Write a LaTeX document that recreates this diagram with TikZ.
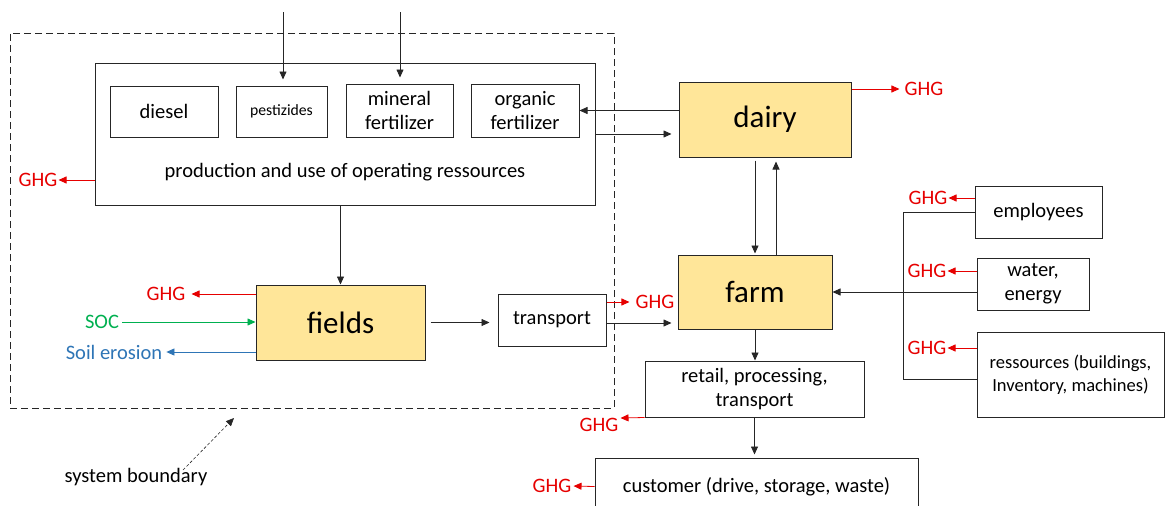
\documentclass[tikz,border=0pt]{standalone}
\usepackage{fontspec}
\setmainfont{Carlito}
\usetikzlibrary{arrows.meta}
\definecolor{ghgred}{RGB}{230,0,0}
\definecolor{socgreen}{RGB}{0,176,80}
\definecolor{erosionblue}{RGB}{46,117,182}
\definecolor{unitfill}{RGB}{255,230,153}
\def\txt{\fontsize{20.5}{24}\selectfont}
\def\bigtxt{\fontsize{31}{36}\selectfont}
\tikzset{%
  box/.style={draw=black!85,line width=1pt,align=center,inner sep=0pt,font=\txt},%
  unit/.style={box,fill=unitfill,font=\bigtxt},%
  lbl/.style={inner sep=0pt,font=\txt},%
  ghg/.style={lbl,text=ghgred},%
  flow/.style={draw=black!85,line width=0.8pt,-{Triangle[length=8pt,width=7pt]}},%
  ghgflow/.style={flow,draw=ghgred},%
  feed/.style={draw=black!85,line width=0.8pt}%
}
\begin{document}
\begin{tikzpicture}[x=1pt,y=-1pt]%
\useasboundingbox (0,0) rectangle (1165,506);%
% system boundary
\node[draw=black!85,line width=1pt,dash pattern=on 7pt off 4pt,inner sep=0pt,minimum width=604,minimum height=375] (boundary) at (312,220.5) {};%
\node[lbl] (sysb) at (136,477) {system boundary};%
\coordinate (sbtip) at (234,418);%
\draw[flow,densely dashed,line width=0.6pt] ([xshift=47pt,yshift=-2pt]sysb.north) -- (sbtip);%
%
% operating ressources
\node[box,minimum width=500,minimum height=142] (ops) at (345,134) {};%
\node[lbl] (opstext) at (345,172) {production and use of operating ressources};%
\node[box,minimum width=108,minimum height=51] (diesel) at (164,111.5) {diesel};%
\node[box,minimum width=91,minimum height=51,font=\fontsize{15.7}{18}\selectfont] (pest) at (281.5,111.5) {pestizides};%
\node[box,minimum width=107,minimum height=53] (mineral) at (399.5,110.5) {mineral\\fertilizer};%
\node[box,minimum width=108,minimum height=53] (organic) at (525,110.5) {organic\\fertilizer};%
\coordinate (inP) at (283,12);%
\coordinate (inM) at (400,12);%
\draw[flow,shorten >=6pt] (inP) -- (inP |- pest.north);%
\draw[flow,shorten >=6pt] (inM) -- (inM |- mineral.north);%
\node[ghg] (ghgA) at (38,180) {GHG};%
\draw[ghgflow,shorten >=1pt] (ops.west |- ghgA) -- (ghgA.east);%
%
% fields
\node[unit,minimum width=169,minimum height=75] (fields) at (340.5,322.5) {fields};%
\draw[flow] (fields.north |- ops.south) -- (fields.north);%
\node[ghg] (ghgC) at (166,294) {GHG};%
\draw[ghgflow,shorten >=6pt] (fields.west |- ghgC) -- (ghgC.east);%
\node[lbl,text=socgreen] (soc) at (102,322) {SOC};%
\draw[flow,draw=socgreen,shorten <=3pt] (soc.east) -- (fields.west |- soc);%
\node[lbl,text=erosionblue] (soil) at (114,352) {Soil erosion};%
\draw[flow,draw=erosionblue,shorten >=4pt] (fields.west |- soil) -- (soil.east);%
%
% transport
\node[box,minimum width=108,minimum height=52] (transport) at (552,320) {transport};%
\draw[flow,shorten <=5pt,shorten >=8pt] (fields.east) -- (fields.east -| transport.west);%
\node[ghg] (ghgD) at (655,302) {GHG};%
\draw[ghgflow,shorten >=6pt] (transport.east |- ghgD) -- (ghgD.west);%
%
% dairy
\node[unit,minimum width=172,minimum height=75] (dairy) at (765,119.5) {dairy};%
\node[ghg] (ghgB) at (924,89) {GHG};%
\draw[ghgflow,shorten >=5pt] (dairy.east |- ghgB) -- (ghgB.west);%
\draw[flow] (dairy.west |- organic) -- (organic.east);%
\coordinate (opsout) at (0,134);%
\draw[flow,shorten >=7pt] (ops.east |- opsout) -- (dairy.west |- opsout);%
%
% farm
\node[unit,minimum width=154,minimum height=74] (farm) at (755,292) {farm};%
\coordinate (dfl) at (755,0);%
\coordinate (dfr) at (776,0);%
\draw[flow,shorten <=3pt,shorten >=1pt] (dfl |- dairy.south) -- (dfl |- farm.north);%
\draw[flow,shorten >=4pt] (dfr |- farm.north) -- (dfr |- dairy.south);%
\coordinate (tf) at ([yshift=-3pt]transport.east);%
\draw[flow,shorten >=6pt] (tf) -- (tf -| farm.west);%
%
% retail and customer
\node[box,minimum width=219,minimum height=56] (retail) at (754.5,389) {retail, processing,\\transport};%
\draw[flow] (farm.south) -- (farm.south |- retail.north);%
\node[ghg] (ghgE) at (599,425) {GHG};%
\draw[ghgflow,shorten >=2pt] (retail.south west) -- (ghgE.north east);%
\node[box,minimum width=323,minimum height=57] (customer) at (756.5,486.5) {customer (drive, storage, waste)};%
\draw[flow,shorten >=3pt] (retail.south) -- (retail.south |- customer.north);%
\node[ghg] (ghgF) at (552,486) {GHG};%
\draw[ghgflow,shorten >=2pt] (customer.west) -- (ghgF.east);%
%
% farm inputs
\node[box,minimum width=127,minimum height=52] (employees) at (1038.5,212) {employees};%
\node[box,minimum width=112,minimum height=52] (water) at (1033,284) {water,\\energy};%
\node[box,minimum width=187,minimum height=85,font=\fontsize{18.5}{23}\selectfont] (ressources) at (1070.5,374.5) {ressources (buildings,\\Inventory, machines)};%
\coordinate (bus) at (903,292);%
\draw[feed] (employees.west) -| (bus);%
\draw[feed] ([yshift=-5pt]ressources.west) -| (bus);%
\draw[flow] (water.west |- bus) -- (farm.east);%
\node[ghg] (ghgG) at (928,198) {GHG};%
\draw[ghgflow,shorten >=1pt] (employees.west |- ghgG) -- (ghgG.east);%
\node[ghg] (ghgH) at (927,271) {GHG};%
\draw[ghgflow,shorten >=1pt] (water.west |- ghgH) -- (ghgH.east);%
\node[ghg] (ghgI) at (927,348) {GHG};%
\draw[ghgflow,shorten >=1pt] (ressources.west |- ghgI) -- (ghgI.east);%
\end{tikzpicture}
\end{document}
